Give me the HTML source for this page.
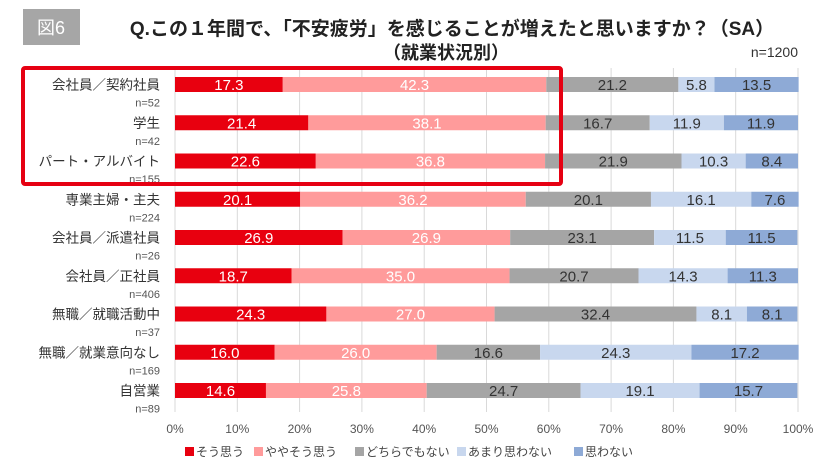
<!DOCTYPE html>
<html><head><meta charset="utf-8"><style>
body{margin:0;background:#fff;width:840px;height:470px;overflow:hidden;font-family:"Liberation Sans","Noto Sans CJK JP",sans-serif;}
</style></head><body>
<svg id="chart" width="840" height="470" style="position:absolute;left:0;top:0;font-family:'Liberation Sans','Noto Sans CJK JP',sans-serif">
<rect x="23" y="9" width="57" height="36" fill="#a6a6a6"/>
<text x="51" y="34" font-size="18" fill="#fff" text-anchor="middle">図6</text>
<text x="452" y="35" font-size="19" font-weight="bold" fill="#222" text-anchor="middle">Q.この１年間で、「不安疲労」を感じることが増えたと思いますか？（SA）</text>
<text x="446" y="59" font-size="18" font-weight="bold" fill="#222" text-anchor="middle">（就業状況別）</text>
<text x="798" y="57" font-size="14" fill="#333" text-anchor="end">n=1200</text>
<g id="grid"></g><g id="bars"></g><g id="labels"></g><g id="legend"></g>
<rect x="23" y="68" width="538" height="116" fill="none" stroke="#e60012" stroke-width="4" rx="2"/>
</svg>
<script>
const categories=["会社員／契約社員","学生","パート・アルバイト","専業主婦・主夫","会社員／派遣社員","会社員／正社員","無職／就職活動中","無職／就業意向なし","自営業"];
const sampleSizes=["n=52","n=42","n=155","n=224","n=26","n=406","n=37","n=169","n=89"];
const seriesNames=["そう思う","ややそう思う","どちらでもない","あまり思わない","思わない"];
const s1=[17.3,21.4,22.6,20.1,26.9,18.7,24.3,16.0,14.6];
const s2=[42.3,38.1,36.8,36.2,26.9,35.0,27.0,26.0,25.8];
const s3=[21.2,16.7,21.9,20.1,23.1,20.7,32.4,16.6,24.7];
const s4=[5.8,11.9,10.3,16.1,11.5,14.3,8.1,24.3,19.1];
const s5=[13.5,11.9,8.4,7.6,11.5,11.3,8.1,17.2,15.7];
const ticks=[0,10,20,30,40,50,60,70,80,90,100];
const series=[s1,s2,s3,s4,s5];
const colors=["#e8000f","#ff9b9b","#a5a5a5","#c8d7ee","#8eaad6"];
const textColors=["#fff","#fff","#333","#333","#333"];
const NS="http://www.w3.org/2000/svg";
const x0=175,x1=798,yTop=77,step=38.25,bh=15;
const xs=v=>x0+(x1-x0)*v/100;
const ys=i=>yTop+i*step;
function mk(tag,attrs,parent,txt){const e=document.createElementNS(NS,tag);for(const k in attrs)e.setAttribute(k,attrs[k]);if(txt!==undefined)e.textContent=txt;document.getElementById(parent).appendChild(e);return e;}
ticks.forEach(t=>{
 const l=mk('line',{x1:xs(t),x2:xs(t),y1:68,y2:412,stroke:'#d9d9d9','stroke-width':1},'grid');
 
 
 const tx=mk('text',{x:xs(t),y:433,'font-size':12,fill:'#555','text-anchor':'middle'},'grid',t+'%');
 
 
});
categories.forEach((c,i)=>{
 let acc=0;
 series.forEach((s,k)=>{
  const v=s[i];
  const r=mk('rect',{x:xs(acc),y:ys(i),width:xs(acc+v)-xs(acc),height:bh,fill:colors[k]},'bars');
  
  
  const t=mk('text',{x:(xs(acc)+xs(acc+v))/2,y:ys(i)+bh/2+5.5,'font-size':15,fill:textColors[k],'text-anchor':'middle'},'bars',v.toFixed(1));
  
  
  acc+=v;
 });
 const n=mk('text',{x:160,y:ys(i)+bh/2+5,'font-size':13.5,fill:'#333','text-anchor':'end'},'labels',c);
 
 
 const m=mk('text',{x:160,y:ys(i)+bh/2+22,'font-size':11,fill:'#555','text-anchor':'end'},'labels',sampleSizes[i]);
 
 
});
const lx=[185,254,355,457,574];
seriesNames.forEach((s,k)=>{
 const r=mk('rect',{x:lx[k],y:447,width:9,height:9,fill:colors[k]},'legend');
 
 
 const t=mk('text',{x:lx[k]+11,y:456,'font-size':12,fill:'#444'},'legend',s);
 
 
});
</script>
</body></html>
